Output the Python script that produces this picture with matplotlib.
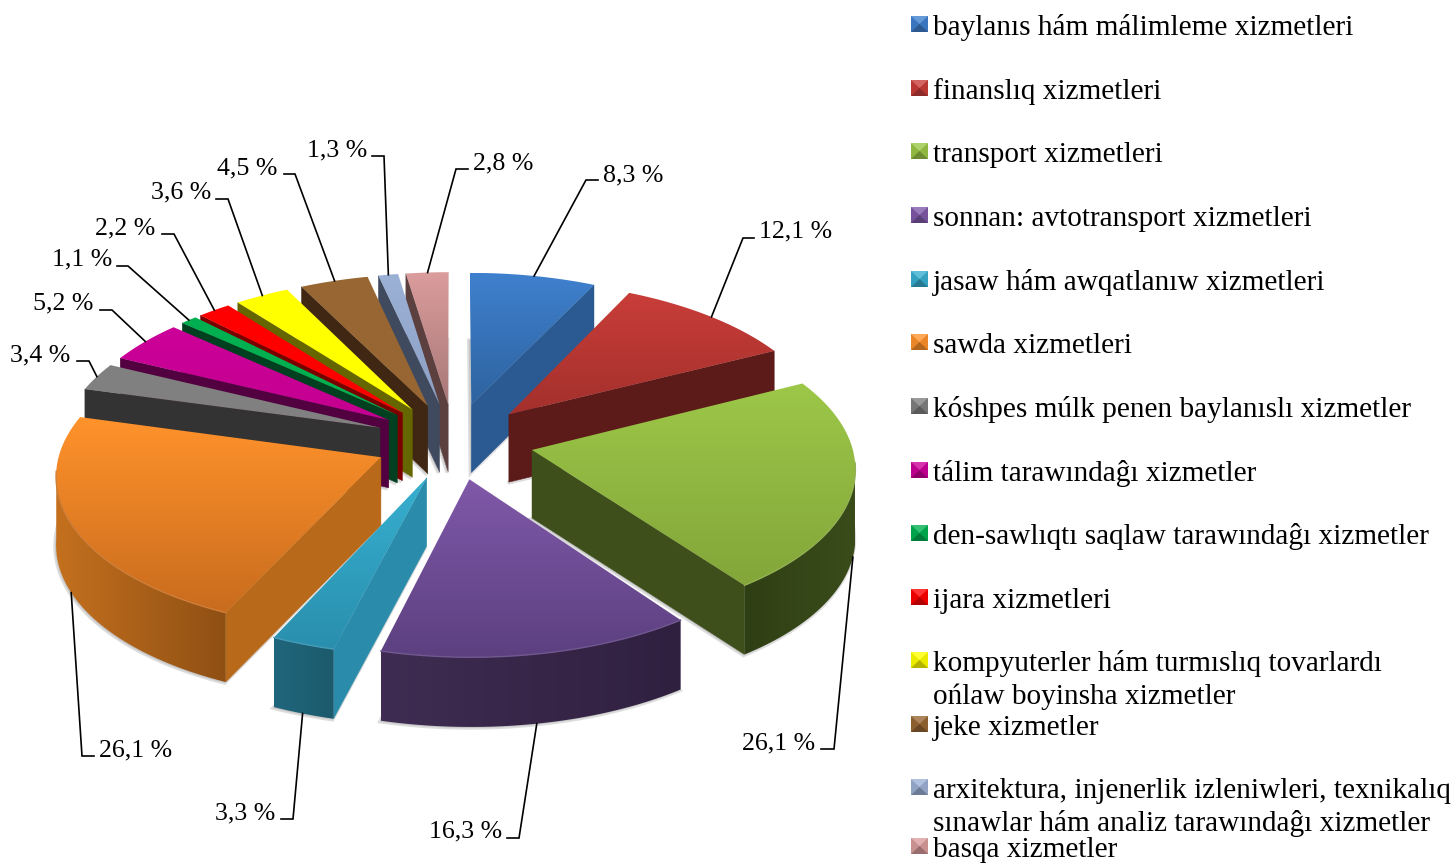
import numpy as np
import matplotlib
matplotlib.use("Agg")
import matplotlib.pyplot as plt
from matplotlib.colors import to_rgb
from matplotlib.patches import Polygon

plt.rcParams['font.family'] = ['Liberation Serif', 'DejaVu Serif']

# ===============================
# Data
# ===============================
categories = [
    "baylanıs hám málimleme xizmetleri",
    "finanslıq xizmetleri",
    "transport xizmetleri",
    "sonnan: avtotransport xizmetleri",
    "jasaw hám awqatlanıw xizmetleri",
    "sawda xizmetleri",
    "kóshpes múlk penen baylanıslı xizmetler",
    "tálim tarawındaĝı xizmetler",
    "den-sawlıqtı saqlaw tarawındaĝı xizmetler",
    "ijara xizmetleri",
    "kompyuterler hám turmıslıq tovarlardı\nońlaw boyinsha xizmetler",
    "jeke xizmetler",
    "arxitektura, injenerlik izleniwleri, texnikalıq\nsınawlar hám analiz tarawındaĝı xizmetler",
    "basqa xizmetler",
]
values = [8.3, 12.1, 26.1, 16.3, 3.3, 26.1, 3.4, 5.2, 1.1, 2.2, 3.6, 4.5, 1.3, 2.8]

# ===============================
# Styles
# ===============================
top_light = ['#3F80CE', '#C93D39', '#9CC748', '#8059A9', '#37AFD0', '#FF922B', '#808080',
             '#CC0099', '#00B050', '#FF0000', '#FFFF00', '#976633', '#9CB1D6', '#DB9C9C']
top_dark = ['#2E639F', '#A3302C', '#84A63A', '#5C4080', '#2A8FAE', '#C96C1E', '#808080',
            '#C40090', '#00B050', '#FF0000', '#FFFF00', '#976633', '#8CA0C4', '#A87878']
wall_col = ['#2A5A91', '#5C1A18', '#3E4F1C', '#3F2C52', '#2A8CAA', '#B86A1A', '#333333',
            '#52003F', '#004020', '#7A0000', '#666600', '#3F2713', '#404A5F', '#5C4040']
rim_left = ['#2A5A91', '#5C1A18', '#2F3F14', '#3F2C52', '#20667C', '#C4701E', '#333333',
            '#52003F', '#004020', '#7A0000', '#666600', '#3F2713', '#404A5F', '#5C4040']
rim_right = ['#2A5A91', '#5C1A18', '#3A4C1A', '#302040', '#1C5A6C', '#8F5014', '#333333',
             '#52003F', '#004020', '#7A0000', '#666600', '#3F2713', '#404A5F', '#5C4040']

# pie projection, in pixels
CX, CY = 454, 441
RX, RY = 319, 152
PERSP = 0.10
EXPLODE = 0.25
DEPTH = 68

# label layout
label_x = [603, 759, 742, 429, 215, 99, 10, 33, 52, 95, 151, 217, 307, 473]
label_y = [175, 231, 743, 831, 813, 750, 355, 303, 259, 228, 192, 168, 150, 163]
elbow = [[(598, 180), (586, 180)], [(754, 238), (743, 238)], [(821, 749), (834, 749)],
         [(507, 838), (519, 838)], [(281, 819), (293, 819)], [(94, 756), (82, 756)],
         [(77, 361), (89, 361)], [(100, 310), (112, 310)], [(117, 266), (128, 266)],
         [(162, 234), (174, 234)], [(216, 199), (228, 199)], [(284, 174), (295, 174)],
         [(372, 156), (384, 156)], [(468, 169), (456, 169)]]
front_anchor = [False, False, True, True, True, True, False, False, False, False, False,
                False, False, False]

# last entry sits a little higher so its descender stays inside the picture
legend_base = [35, 99, 162, 226, 290, 353, 417, 481, 544, 608, 671, 735, 798, 857]


# ===============================
# Projection helpers
# ===============================
def project(x, y, down=0.0):
    w = 1 - PERSP * y
    return CX + RX * x / w, CY + RY * y / w + down * (1 + 0.02 * y)


def slice_points(start, end, down=0.0, n=60):
    mid = (start + end) / 2
    ox, oy = EXPLODE * np.sin(mid), -EXPLODE * np.cos(mid)
    th = np.linspace(start, end, n)
    sx, sy = project(np.sin(th) + ox, -np.cos(th) + oy, down)
    return np.array(project(ox, oy, down)), np.column_stack([sx, sy]), th


def gradient_fill(ax, pts, c1, c2, z, vertical=True):
    pts = np.asarray(pts)
    grad = np.linspace(to_rgb(c1), to_rgb(c2), 64)
    grad = grad.reshape(64, 1, 3) if vertical else grad.reshape(1, 64, 3)
    xmin, ymin = pts.min(axis=0)
    xmax, ymax = pts.max(axis=0)
    im = ax.imshow(grad, extent=(xmin, xmax, ymax, ymin), origin='upper', aspect='auto',
                   zorder=z, interpolation='bilinear')
    im.set_clip_path(Polygon(pts, closed=True, transform=ax.transData))


def mix(color, other, t):
    return tuple(np.array(to_rgb(color)) * (1 - t) + np.array(to_rgb(other)) * t)


# ===============================
# Figure
# ===============================
fig = plt.figure(figsize=(14.54, 8.65), dpi=100)
ax = fig.add_axes([0, 0, 1, 1])

edges = np.concatenate([[0], np.cumsum(values)]) / np.sum(values) * 2 * np.pi
mids = (edges[:-1] + edges[1:]) / 2

# far slices first so the near ones paint over them
order = sorted(range(len(values)), key=lambda k: -np.cos(mids[k]))

z = 2
for i in order:
    apex, arc, th = slice_points(edges[i], edges[i + 1])
    apex_b, arc_b, _ = slice_points(edges[i], edges[i + 1], DEPTH)

    # soft shadow under the block
    shadow = np.vstack([apex_b, arc_b]) + np.array([-1, 1])
    ax.add_patch(Polygon(shadow, closed=True, fc='#909090', ec='#909090', lw=2.5, alpha=0.3, zorder=z))
    z += 1

    # radial walls, only when they face down towards the viewer
    if np.sin(edges[i]) < -1e-6:
        ax.fill(*np.array([apex, arc[0], arc_b[0], apex_b]).T, color=wall_col[i], lw=0.3, zorder=z)
    if np.sin(edges[i + 1]) > 1e-6:
        ax.fill(*np.array([apex, arc[-1], arc_b[-1], apex_b]).T, color=wall_col[i], lw=0.3, zorder=z)
    z += 1

    # outer rim, only the lower part of the circle shows
    seen = np.cos(th) < -0.08
    if seen.sum() > 1:
        rim = np.vstack([arc[seen], arc_b[seen][::-1]])
        gradient_fill(ax, rim, rim_left[i], rim_right[i], z, vertical=False)
    z += 1

    # top face
    top = np.vstack([apex, arc])
    gradient_fill(ax, top, top_light[i], top_dark[i], z)
    z += 1

    # thin light edge where the top meets the rim
    if seen.sum() > 1:
        ax.plot(arc[seen, 0], arc[seen, 1], color=mix(top_dark[i], 'white', 0.12), lw=1.0, zorder=z)
    z += 1

# leader lines and value labels
for i, v in enumerate(values):
    down = DEPTH if front_anchor[i] else 0.0
    anchor = slice_points(edges[i], edges[i + 1], down)[1][30]
    pts = elbow[i] + [tuple(anchor)]
    xs, ys = zip(*pts)
    ax.plot(xs, ys, color='black', lw=1.2, zorder=500, solid_joinstyle='miter')
    ax.text(label_x[i], label_y[i], f"{v:.1f} %".replace('.', ','), fontsize=18.6,
            ha='left', va='center', color='black', zorder=501)

# legend, with the small bevelled swatches
for i, name in enumerate(categories):
    base = legend_base[i]
    x0, x1 = 911, 928
    y0, y1 = base - 19, base - 3
    xc, yc = (x0 + x1) / 2, (y0 + y1) / 2
    ax.fill([x0, x1, x1, x0], [y0, y0, y1, y1], color=mix(top_light[i], 'black', 0.08), lw=0, zorder=10)
    ax.fill([x0, x1, xc], [y0, y0, yc], color=mix(top_light[i], 'white', 0.2), lw=0, zorder=11)
    ax.fill([x0, x1, xc], [y1, y1, yc], color=mix(top_light[i], 'black', 0.3), lw=0, zorder=11)
    for k, line in enumerate(name.split('\n')):
        ax.text(933, base + 33 * k, line, fontsize=21.1, ha='left', va='baseline',
                color='black', zorder=12)

ax.set_xlim(0, 1454)
ax.set_ylim(865, 0)
ax.axis('off')

fig.savefig("out.png", dpi=100, facecolor='white')
